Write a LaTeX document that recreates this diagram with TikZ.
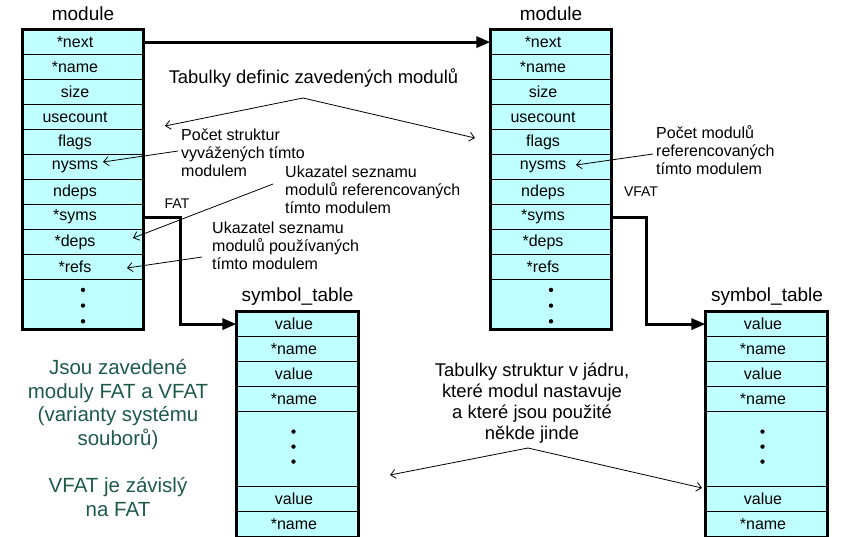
\documentclass[tikz,border=0pt]{standalone}
\usepackage{fontspec}
\setmainfont{Liberation Sans}
\usetikzlibrary{arrows.meta}
\definecolor{cellfill}{HTML}{C0FFFF}
\definecolor{notegreen}{HTML}{1E5A4A}

\begin{document}
\begin{tikzpicture}[x=1pt,y=-1pt,
  cell/.style={draw=black, line width=1.2pt, fill=cellfill, minimum height=25pt,
    inner sep=0pt, anchor=north, font=\fontsize{16}{18}\selectfont},
  modcell/.style={cell, minimum width=120pt, execute at end node={\hspace*{16pt}}},
  symcell/.style={cell, minimum width=121pt, execute at end node={\hspace*{7pt}}},
  frame/.style={draw=black, line width=3pt},
  heading/.style={inner sep=0pt, font=\fontsize{19}{21}\selectfont},
  link/.style={line width=3pt, -{Triangle[length=14pt,width=11pt]}},
  note/.style={inner sep=0pt, align=left, anchor=west, font=\fontsize{16}{18}\selectfont},
  bignote/.style={inner sep=0pt, align=center, font=\fontsize{18.4}{21}\selectfont},
  pointer/.style={line width=0.8pt, -{Straight Barb[length=5pt,width=9pt]}},
  dot/.style={fill=black}
]
\useasboundingbox (0,0) rectangle (843,536);

% ---- module structure of FAT ----
\node[heading] (Lhead) at (83,14) {module};
\foreach \lab [count=\i] in {*next,*name,size,usecount,flags,nysms,ndeps,*syms,*deps,*refs}
  \node[modcell] (L\i) at (83,4+25*\i) {\lab};
\node[modcell, minimum height=49pt] (L11) at (83,279) {};
\foreach \d in {14.2,-1.5,-17.2} \fill[dot] ([yshift=\d pt]L11.center) circle (2.2pt);
\draw[frame] (L1.north west) rectangle (L11.south east);

% ---- module structure of VFAT ----
\node[heading] (Rhead) at (551,14) {module};
\foreach \lab [count=\i] in {*next,*name,size,usecount,flags,nysms,ndeps,*syms,*deps,*refs}
  \node[modcell] (R\i) at (551,4+25*\i) {\lab};
\node[modcell, minimum height=49pt] (R11) at (551,279) {};
\foreach \d in {14.2,-1.5,-17.2} \fill[dot] ([yshift=\d pt]R11.center) circle (2.2pt);
\draw[frame] (R1.north west) rectangle (R11.south east);

% ---- symbol tables ----
\node[heading] (Shead) at (297.5,297) {symbol\_table};
\node[heading] (Thead) at (767,297) {symbol\_table};
\foreach \tab/\cx in {S/297.5,T/766.5}{
  \node[symcell] (\tab1) at (\cx,311) {value};
  \node[symcell] (\tab2) at (\cx,336) {*name};
  \node[symcell] (\tab3) at (\cx,361) {value};
  \node[symcell] (\tab4) at (\cx,386) {*name};
  \node[symcell, minimum height=75pt] (\tab5) at (\cx,411) {};
  \node[symcell] (\tab6) at (\cx,486) {value};
  \node[symcell] (\tab7) at (\cx,511) {*name};
  \foreach \d in {17.5,2.5,-12.5} \fill[dot] ([xshift=-4pt,yshift=\d pt]\tab5.center) circle (2.2pt);
  \draw[frame] (\tab1.north west) rectangle (\tab7.south east);
}

% ---- pointers between structures ----
\draw[link] (L1.east) -- (R1.west);
\draw[link] (L8.east) -- ++(37,0) |- (S1.west);
\draw[link] (R8.east) -- ++(35,0) |- (T1.west);
\node[inner sep=0pt, font=\fontsize{14}{16}\selectfont] (fat) at (177,204) {FAT};
\node[inner sep=0pt, font=\fontsize{14}{16}\selectfont] (vfat) at (641,192) {VFAT};

% ---- explanations ----
\node[bignote] (defs) at (313.5,78) {Tabulky definic zavedených modulů};
\coordinate (defsApex) at (303,98);
\coordinate (defsL) at (165,126);
\coordinate (defsR) at (475,138);
\draw[pointer] (defsApex) -- (defsL);
\draw[pointer] (defsApex) -- (defsR);

\node[note] (nsyms) at (181,153) {Počet struktur\\vyvážených tímto\\modulem};
\coordinate (nsymsTail) at (178,151);
\coordinate (nsymsTip) at (103,162);
\draw[pointer] (nsymsTail) -- (nsymsTip);

\node[note] (refnote) at (285,190) {Ukazatel seznamu\\modulů referencovaných\\tímto modulem};
\coordinate (refTail) at (273,184);
\coordinate (refTip) at (133,238);
\draw[pointer] (refTail) -- (refTip);

\node[note] (depnote) at (212,246) {Ukazatel seznamu\\modulů používaných\\tímto modulem};
\coordinate (depTail) at (202,257);
\coordinate (depTip) at (127,268);
\draw[pointer] (depTail) -- (depTip);

\node[note] (nmods) at (656,150) {Počet modulů\\referencovaných\\tímto modulem};
\coordinate (nmodsTail) at (653,154);
\coordinate (nmodsTip) at (576,165);
\draw[pointer] (nmodsTail) -- (nmodsTip);

\node[bignote] (kernel) at (532,403.5) {Tabulky struktur v jádru,\\které modul nastavuje\\a které jsou použité\\někde jinde};
\coordinate (kernelApex) at (528,448);
\coordinate (kernelL) at (390,475);
\coordinate (kernelR) at (702,488);
\draw[pointer] (kernelApex) -- (kernelL);
\draw[pointer] (kernelApex) -- (kernelR);

\node[inner sep=0pt, align=center, text=notegreen, font=\fontsize{20.5}{23.7}\selectfont]
  (summary) at (118,438) {Jsou zavedené\\moduly FAT a VFAT\\(varianty systému\\souborů)\\[23.7pt]VFAT je závislý\\na FAT};
\end{tikzpicture}
\end{document}
